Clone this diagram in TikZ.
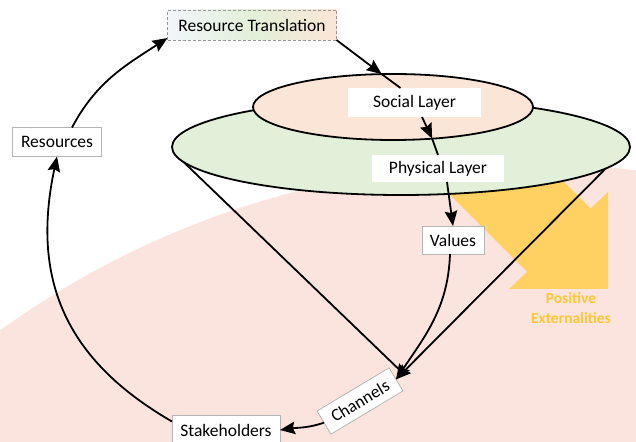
\documentclass[tikz,border=0pt]{standalone}
\usepackage{fontspec}
\setmainfont{Carlito}
\usetikzlibrary{arrows.meta,shapes.geometric}
\definecolor{bgpink}{RGB}{252,228,222}
\definecolor{socfill}{RGB}{251,229,214}
\definecolor{physfill}{RGB}{226,240,217}
\definecolor{extarrow}{RGB}{255,208,98}
\definecolor{exttext}{RGB}{255,199,50}
\definecolor{boxgray}{RGB}{180,180,180}
\definecolor{rtleft}{RGB}{242,245,250}
\definecolor{rtborder}{RGB}{150,150,150}
\begin{document}
\begin{tikzpicture}[x=1pt,y=1pt,
  every node/.style={font=\fontsize{17.5}{21}\selectfont, inner sep=0pt, outer sep=0pt},
  plainbox/.style={draw=boxgray, line width=0.8pt, fill=white, minimum height=29pt, align=center},
  layerbox/.style={fill=white, minimum height=28pt},
  layer/.style={ellipse, draw=black, line width=1.8pt, inner sep=0pt, outer sep=0pt},
  flow/.style={line width=1.8pt, -{Stealth[length=15pt,width=12.5pt,inset=2pt]}},
  cone/.style={line width=1.8pt}]
\useasboundingbox (0,0) rectangle (636,441);
% background
\fill[bgpink] (520,-613) circle[radius=891];
% positive externalities block arrow
\fill[extarrow] (511.5,311.5) -- (590.5,232.5) -- (608,249) -- (608,152) -- (509,152) -- (527,169) -- (448,248) -- cycle;
% layers
\node[layer, fill=physfill, minimum width=458pt, minimum height=96pt] (phys) at (401,294) {};
\node[layer, fill=socfill, minimum width=280pt, minimum height=66pt] (soc) at (393,334) {};
% text boxes
\node[layerbox, minimum width=133pt, minimum height=29pt] (social) at (414.5,338.5) {Social Layer};
\node[layerbox, minimum width=132pt, minimum height=27pt] (physical) at (438,272.5) {Physical Layer};
\node[plainbox, minimum width=62pt, minimum height=28pt] (values) at (453,201) {Values};
\node[plainbox, minimum width=89pt] (resources) at (57,299) {Resources};
\node[plainbox, minimum width=108pt] (stake) at (226,11) {Stakeholders};
\node[plainbox, minimum width=84pt, minimum height=27pt, rotate=31] (channels) at (360,40) {Channels};
\node[draw=rtborder, dash pattern=on 3pt off 2pt, line width=0.9pt, left color=rtleft, right color=socfill, middle color=physfill, minimum width=169pt, minimum height=30pt] (rt) at (252,416) {Resource Translation};
\node[font=\bfseries\fontsize{15.5}{20}\selectfont, text=exttext, align=center] (ext) at (571,133) {Positive\\Externalities};
% connectors
\draw[flow] ([xshift=15pt]resources.north) to[out=62,in=213] ([yshift=2pt]rt.south west);
\draw[flow] ([yshift=-6pt]stake.north west) to[out=150,in=258,looseness=1.1] (resources.south);
\coordinate (socin) at (soc.109.4);
\draw[flow] (rt.south east) -- (socin);
\draw[cone] (socin) -- ([xshift=-14pt]social.north);
\coordinate (socout) at (soc.321.3);
\draw[flow] ([xshift=7.5pt]social.south) -- (socout);
\draw[cone] (socout) -- (physical.north);
\draw[flow] ([xshift=9pt]physical.south) -- (values.north);
\coordinate (conejoin) at ([shift={(4pt,9pt)}]channels.east);
\draw[cone] (phys.184.2) -- (conejoin);
\draw[flow] (phys.354.6) -- (channels.east);
\draw[flow] ([xshift=-3pt]values.south) to[out=268,in=56] (channels.east);
\draw[flow] (channels.west) to[out=199,in=8] (stake.east);
\end{tikzpicture}
\end{document}
